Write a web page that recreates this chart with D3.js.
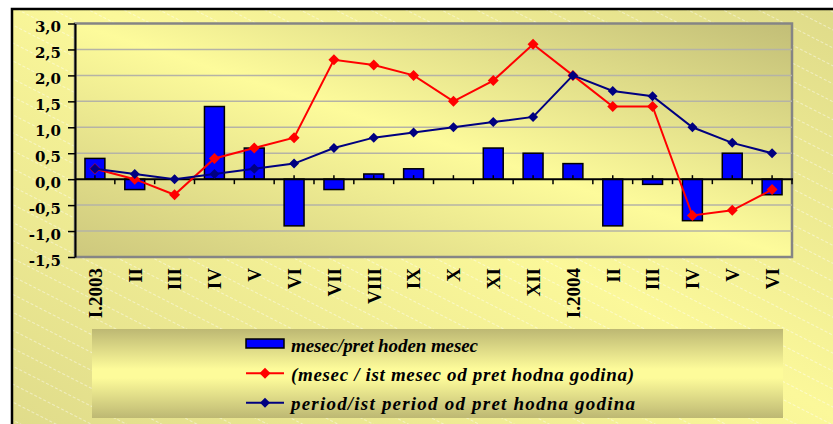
<!DOCTYPE html>
<html lang="en">
    <head>
        <meta charset="utf-8">
        <title>Inflacija 2003-2004</title>
        <script src="https://d3js.org/d3.v7.min.js"></script>
        <style type="text/css">
            body { margin: 0; background: #fff; }
            svg { display: block; }
        </style>
    </head>
    <body>
        <svg id="chart" width="833" height="424"></svg>
        <script>
            //Categories (months) and series
            var monthLabels = ['I.2003', 'II', 'III', 'IV', 'V', 'VI', 'VII', 'VIII', 'IX', 'X', 'XI', 'XII',
                               'I.2004', 'II', 'III', 'IV', 'V', 'VI'];
            var monthOnMonth = [0.4, -0.2, 0.0, 1.4, 0.6, -0.9, -0.2, 0.1, 0.2, 0.0, 0.6, 0.5,
                                0.3, -0.9, -0.1, -0.8, 0.5, -0.3];
            var monthOnYear = [0.2, 0.0, -0.3, 0.4, 0.6, 0.8, 2.3, 2.2, 2.0, 1.5, 1.9, 2.6,
                               2.0, 1.4, 1.4, -0.7, -0.6, -0.2];
            var periodOnYear = [0.2, 0.1, 0.0, 0.1, 0.2, 0.3, 0.6, 0.8, 0.9, 1.0, 1.1, 1.2,
                                2.0, 1.7, 1.6, 1.0, 0.7, 0.5];
            var yTicks = [-1.5, -1, -0.5, 0, 0.5, 1, 1.5, 2, 2.5, 3];
            var legendLabels = ['mesec/pret hoden mesec',
                                '(mesec / ist mesec od pret hodna godina)',
                                'period/ist period od pret hodna godina'];

            var svg = d3.select('#chart');

            //Plot area box ("top" is taken by window.top, so prefix everything)
            var plotL = 75, plotR = 792, plotT = 23.5, plotB = 257;

            var x = d3.scaleBand()
                      .domain(d3.range(monthLabels.length))
                      .range([plotL, plotR]);

            var y = d3.scaleLinear()
                      .domain([-1.5, 3])
                      .range([plotB, plotT]);

            //Comma as decimal mark, plain hyphen for minus
            var locale = d3.formatLocale({decimal: ',', thousands: '.', grouping: [3], currency: ['', ''], minus: '-'});
            var fmt = locale.format('.1f');

            var defs = svg.append('defs');

            var bgGrad = defs.append('linearGradient')
                .attr('id', 'bgGrad')
                .attr('x1', 1).attr('y1', 0).attr('x2', 0).attr('y2', 1);
            bgGrad.append('stop').attr('offset', 0).attr('stop-color', '#dcd888');
            bgGrad.append('stop').attr('offset', 0.45).attr('stop-color', '#fbf89a');
            bgGrad.append('stop').attr('offset', 1).attr('stop-color', '#dbd788');

            var plotGrad = defs.append('linearGradient')
                .attr('id', 'plotGrad')
                .attr('x1', 1).attr('y1', 0).attr('x2', 0).attr('y2', 1);
            plotGrad.append('stop').attr('offset', 0).attr('stop-color', '#c2be77');
            plotGrad.append('stop').attr('offset', 0.5).attr('stop-color', '#fdfb9b');
            plotGrad.append('stop').attr('offset', 1).attr('stop-color', '#cdc87d');

            var legGrad = defs.append('linearGradient')
                .attr('id', 'legGrad')
                .attr('x1', 0).attr('y1', 0).attr('x2', 0).attr('y2', 1);
            legGrad.append('stop').attr('offset', 0).attr('stop-color', '#bdb873');
            legGrad.append('stop').attr('offset', 0.45).attr('stop-color', '#fdfb9a');
            legGrad.append('stop').attr('offset', 0.55).attr('stop-color', '#fdfb9a');
            legGrad.append('stop').attr('offset', 1).attr('stop-color', '#bdb873');

            //Thin light diagonal stripes on the background
            var stripes = defs.append('pattern')
                .attr('id', 'stripes')
                .attr('patternUnits', 'userSpaceOnUse')
                .attr('width', 40).attr('height', 16)
                .attr('patternTransform', 'rotate(27)');
            stripes.append('line')
                .attr('x1', 0).attr('y1', 0.5).attr('x2', 40).attr('y2', 0.5)
                .attr('stroke', '#ffffff')
                .attr('stroke-opacity', 0.45)
                .attr('stroke-dasharray', '3,2');

            //Outer chart background
            svg.append('rect')
                .attr('x', 12).attr('y', 9)
                .attr('width', 900).attr('height', 500)
                .attr('fill', 'url(#bgGrad)');
            svg.append('rect')
                .attr('x', 12).attr('y', 9)
                .attr('width', 900).attr('height', 500)
                .attr('fill', 'url(#stripes)');
            svg.append('rect')
                .attr('x', 12).attr('y', 9)
                .attr('width', 900).attr('height', 500)
                .attr('fill', 'none')
                .attr('stroke', '#000')
                .attr('stroke-width', 2.5);

            //Plot area
            svg.append('rect')
                .attr('x', plotL).attr('y', plotT)
                .attr('width', plotR - plotL).attr('height', plotB - plotT)
                .attr('fill', 'url(#plotGrad)')
                .attr('stroke', '#858585')
                .attr('stroke-width', 2.5);

            //Gridlines
            svg.append('g')
                .selectAll('line')
                .data(yTicks.filter(function(d) { return d !== 0 && d !== 3 && d !== -1.5; }))
                .enter()
                .append('line')
                .attr('x1', plotL).attr('x2', plotR)
                .attr('y1', function(d) { return y(d); })
                .attr('y2', function(d) { return y(d); })
                .attr('stroke', '#b5b3a6')
                .attr('stroke-width', 1.5);

            //Bars
            var barW = x.bandwidth() * 0.5;
            svg.append('g')
                .selectAll('rect')
                .data(monthOnMonth)
                .enter()
                .append('rect')
                .attr('x', function(d, i) { return x(i) + (x.bandwidth() - barW) / 2; })
                .attr('y', function(d) { return y(Math.max(0, d)); })
                .attr('width', barW)
                .attr('height', function(d) { return Math.abs(y(d) - y(0)); })
                .attr('fill', '#0000ff')
                .attr('stroke', '#000')
                .attr('stroke-width', 1.5);

            //Zero line with tick marks
            var zero = svg.append('g');
            zero.append('line')
                .attr('x1', plotL).attr('x2', plotR + 1)
                .attr('y1', y(0)).attr('y2', y(0))
                .attr('stroke', '#000')
                .attr('stroke-width', 2);
            zero.selectAll('.bnd')
                .data(d3.range(1, monthLabels.length + 1))
                .enter()
                .append('line')
                .attr('x1', function(i) { return x(i - 1) + x.bandwidth(); })
                .attr('x2', function(i) { return x(i - 1) + x.bandwidth(); })
                .attr('y1', y(0)).attr('y2', y(0) + 5)
                .attr('stroke', '#000')
                .attr('stroke-width', 1.5);
            zero.selectAll('.mid')
                .data(d3.range(monthLabels.length))
                .enter()
                .append('line')
                .attr('x1', function(i) { return x(i) + x.bandwidth() / 2; })
                .attr('x2', function(i) { return x(i) + x.bandwidth() / 2; })
                .attr('y1', y(0)).attr('y2', y(0) - 4)
                .attr('stroke', '#000')
                .attr('stroke-width', 1.5);

            //Square diamond marker
            function diamond(r) {
                return {
                    draw: function(ctx) {
                        ctx.moveTo(0, -r);
                        ctx.lineTo(r, 0);
                        ctx.lineTo(0, r);
                        ctx.lineTo(-r, 0);
                        ctx.closePath();
                    }
                };
            }

            var line = d3.line()
                .x(function(d, i) { return x(i) + x.bandwidth() / 2; })
                .y(function(d) { return y(d); });

            function drawSeries(values, color, r) {
                var g = svg.append('g');
                g.append('path')
                    .datum(values)
                    .attr('d', line)
                    .attr('fill', 'none')
                    .attr('stroke', color)
                    .attr('stroke-width', 2);
                g.selectAll('path.m')
                    .data(values)
                    .enter()
                    .append('path')
                    .attr('class', 'm')
                    .attr('d', d3.symbol().type(diamond(r)))
                    .attr('transform', function(d, i) {
                        return 'translate(' + (x(i) + x.bandwidth() / 2) + ',' + y(d) + ')';
                    })
                    .attr('fill', color);
            }

            drawSeries(monthOnYear, '#ff0000', 5.5);
            drawSeries(periodOnYear, '#000080', 5);

            //Y axis
            var yAxis = d3.axisLeft(y)
                .tickValues(yTicks)
                .tickSize(7)
                .tickSizeOuter(0)
                .tickPadding(7)
                .tickFormat(fmt);

            var yG = svg.append('g')
                .attr('transform', 'translate(' + plotL + ',0)')
                .call(yAxis);
            yG.select('.domain').attr('stroke', '#000').attr('stroke-width', 2);
            yG.selectAll('.tick line').attr('stroke', '#000').attr('stroke-width', 1.5);
            yG.selectAll('.tick text')
                .attr('dy', '0.55em')
                .attr('fill', '#000')
                .style('font-family', '"DejaVu Serif", serif')
                .style('font-weight', 'bold')
                .style('font-size', '15px');

            //X axis labels, rotated
            var xAxis = d3.axisBottom(x)
                .tickSize(0)
                .tickFormat(function(i) { return monthLabels[i]; });

            var xG = svg.append('g')
                .attr('transform', 'translate(0,' + plotB + ')')
                .call(xAxis);
            xG.select('.domain').remove();
            xG.selectAll('.tick text')
                .attr('transform', 'rotate(-90)')
                .attr('text-anchor', 'end')
                .attr('x', -11)
                .attr('y', 0)
                .attr('dy', '0.36em')
                .attr('fill', '#000')
                .style('font-family', '"Liberation Serif", serif')
                .style('font-weight', 'bold')
                .style('font-size', '19px');

            //Legend
            var legend = svg.append('g');
            legend.append('rect')
                .attr('x', 92).attr('y', 329)
                .attr('width', 691).attr('height', 89)
                .attr('fill', 'url(#legGrad)');

            var rowY = [343.5, 373.3, 402.7];
            var rowBase = [351.5, 380.5, 409.5];
            var textLen = [187, 343, 344];

            legend.append('rect')
                .attr('x', 246).attr('y', rowY[0] - 4.5)
                .attr('width', 38).attr('height', 9)
                .attr('fill', '#0000ff')
                .attr('stroke', '#000')
                .attr('stroke-width', 1.5);

            [['#ff0000', 5.5], ['#000080', 5]].forEach(function(s, k) {
                legend.append('line')
                    .attr('x1', 246).attr('x2', 284)
                    .attr('y1', rowY[k + 1]).attr('y2', rowY[k + 1])
                    .attr('stroke', s[0])
                    .attr('stroke-width', 2);
                legend.append('path')
                    .attr('d', d3.symbol().type(diamond(s[1])))
                    .attr('transform', 'translate(265,' + rowY[k + 1] + ')')
                    .attr('fill', s[0]);
            });

            legend.selectAll('text')
                .data(legendLabels)
                .enter()
                .append('text')
                .attr('x', 291)
                .attr('y', function(d, i) { return rowBase[i]; })
                .attr('textLength', function(d, i) { return textLen[i]; })
                .attr('lengthAdjust', 'spacing')
                .style('font-family', '"Liberation Serif", serif')
                .style('font-weight', 'bold')
                .style('font-style', 'italic')
                .style('font-size', '19px')
                .text(function(d) { return d; });
        </script>
    </body>
</html>
